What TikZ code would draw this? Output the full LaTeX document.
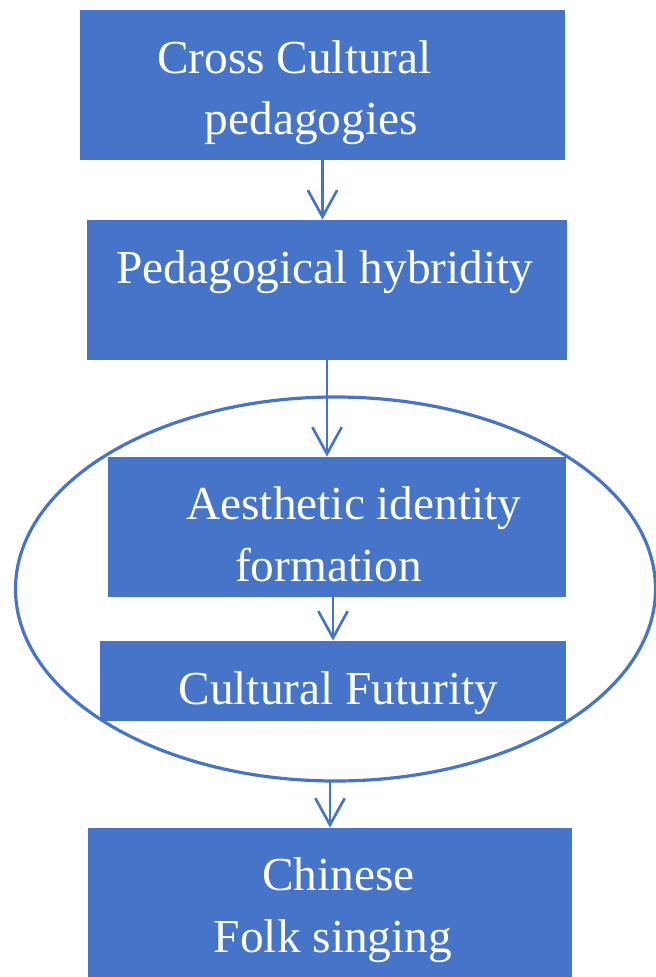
\documentclass[tikz,border=0pt]{standalone}
\usepackage{fontspec}
\setmainfont{Liberation Serif}
\usepackage{tikz}
\usetikzlibrary{backgrounds}
\usetikzlibrary{positioning}
\usetikzlibrary{arrows.meta}
\usetikzlibrary{shapes.geometric}
\definecolor{boxblue}{RGB}{70,116,200}

\begin{document}
\begin{tikzpicture}[
            x = 0.75pt, y = -0.75pt, % pixel grid, y runs down
            line cap = round,
            semithick % line style
        ]

        \tikzset{
            box/.style = {
                fill = boxblue,
                text = white,
                inner sep = 0pt,
                align = center,
                text depth = 0pt,
                font = \fontsize{35.5}{46}\selectfont
            },
            link/.style = {-{Straight Barb[length=20pt,width=22pt]}, draw = boxblue, line width = 2pt}
        }

        \useasboundingbox (0,0) rectangle (656,977);

	% boxes
        \node[box, minimum width=363.75pt, minimum height=112.5pt, text height=75pt] (cross) at (322.5,85) {Cross Cultural\hspace*{42pt}\\pedagogies\hspace*{17pt}};
        \node[box, minimum width=360pt, minimum height=105pt, text height=0pt, text depth=10.5pt] (hybrid) at (327,290) {Pedagogical hybridity\hspace*{3pt}};
        \node[box, minimum width=343.5pt, minimum height=105pt, text height=81pt] (aesth) at (336.5,527) {\hspace*{26pt}Aesthetic identity\\formation\hspace*{12pt}};
        \node[box, minimum width=349.5pt, minimum height=60pt, text height=34.5pt] (futur) at (333,681) {\hspace*{8pt}Cultural Futurity};
        \node[box, minimum width=363pt, minimum height=111.75pt, text height=74.25pt] (folk) at (330,902.5) {\hspace*{13pt}Chinese\\\hspace*{4.5pt}Folk singing};

        % the ring round the middle
        \begin{scope}[on background layer]
        \node[ellipse, draw=boxblue, line width=2.4pt, minimum width=480pt, minimum height=288pt] (cluster) at (335.5,589) {};
        \end{scope}

        \draw[link] (cross.south) -- (cross.south |- hybrid.north);
        \draw[link] (hybrid.south) -- (hybrid.south |- aesth.north);
        \draw[link] (futur.north |- aesth.south) -- (futur.north);
        \draw[link] (cluster.south -| folk.north) -- (folk.north);

\end{tikzpicture}
\end{document}
